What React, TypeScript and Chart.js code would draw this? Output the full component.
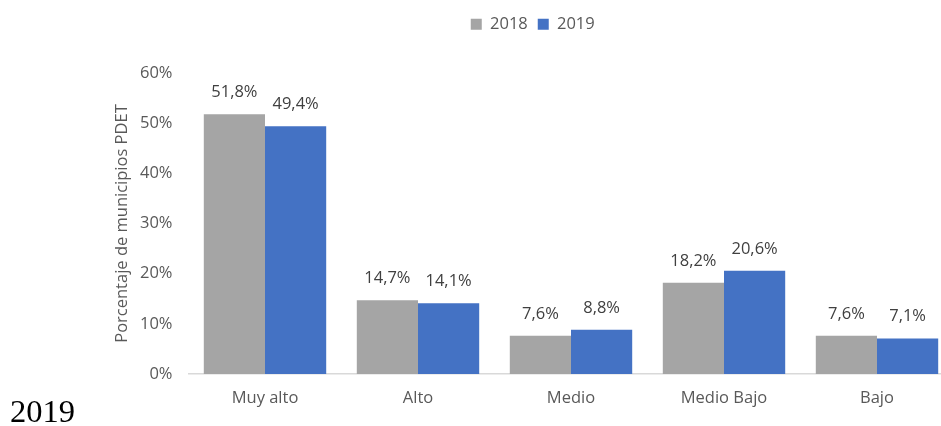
import React, { useEffect, useRef } from "react";
import { Chart, registerables } from "chart.js";

Chart.register(...registerables);

const categories = ["Muy alto", "Alto", "Medio", "Medio Bajo", "Bajo"];
const series2018 = [51.8, 14.7, 7.6, 18.2, 7.6];
const series2019 = [49.4, 14.1, 8.8, 20.6, 7.1];
const seriesNames = ["2018", "2019"];
const yTicksMax = 60;
const yTickStep = 10;
const yTitle = "Porcentaje de municipios PDET";
const footerText = "2019";

const FONT = "'Open Sans', sans-serif";
const TEXT = "#595959";
const FS = 16.5;

const fmt = (v: number) => v.toFixed(1).replace(".", ",") + "%";

const dataLabels = {
  id: "dataLabels",
  afterDatasetsDraw(chart: any) {
    const ctx = chart.ctx;
    ctx.save();
    ctx.font = `${FS}px ${FONT}`;
    ctx.fillStyle = "#404040";
    ctx.textAlign = "center";
    ctx.textBaseline = "alphabetic";
    chart.data.datasets.forEach((ds: any, i: number) => {
      const meta = chart.getDatasetMeta(i);
      meta.data.forEach((bar: any, j: number) => {
        ctx.fillText(fmt(ds.data[j]), bar.x, bar.y - 17);
      });
    });
    ctx.restore();
  },
};

const legendHeight = {
  id: "legendHeight",
  beforeInit(chart: any) {
    const legend = chart.legend;
    if (!legend) return;
    const orig = legend.fit;
    legend.fit = function () {
      orig.call(this);
      this.height = 67;
    };
  },
};

export default function App() {
  const ref = useRef<HTMLCanvasElement | null>(null);
  useEffect(() => {
    if (!ref.current) return;
    const chart = new Chart(ref.current, {
      type: "bar",
      data: {
        labels: categories,
        datasets: [
          {
            label: seriesNames[0],
            data: series2018,
            backgroundColor: "#A5A5A5",
            categoryPercentage: 0.8,
            barPercentage: 1,
          },
          {
            label: seriesNames[1],
            data: series2019,
            backgroundColor: "#4472C4",
            categoryPercentage: 0.8,
            barPercentage: 1,
          },
        ],
      },
      options: {
        animation: false,
        responsive: false,
        maintainAspectRatio: false,
        layout: { padding: { left: 112, right: 16.5, top: 6, bottom: 0 } },
        plugins: {
          legend: {
            position: "top",
            labels: {
              boxWidth: 11,
              boxHeight: 11,
              padding: 10,
              color: TEXT,
              font: { family: FONT, size: FS },
            },
          },
          tooltip: { enabled: false },
        },
        scales: {
          x: {
            grid: { display: false, drawTicks: false },
            border: { display: true, color: "#D9D9D9", width: 1.5 },
            ticks: { color: TEXT, font: { family: FONT, size: FS }, padding: 14 },
            afterFit: (s: any) => {
              s.height = 52;
            },
          },
          y: {
            min: 0,
            max: yTicksMax,
            grid: { display: false, drawTicks: false },
            border: { display: false },
            ticks: {
              stepSize: yTickStep,
              color: TEXT,
              font: { family: FONT, size: FS },
              padding: 16,
              callback: (v: any) => v + "%",
            },
            title: {
              display: true,
              text: yTitle,
              color: TEXT,
              font: { family: FONT, size: FS },
              padding: 0,
            },
            afterFit: (s: any) => {
              s.width = 76.5;
            },
          },
        },
      },
      plugins: [dataLabels, legendHeight],
    });
    return () => chart.destroy();
  }, []);

  return (
    <div
      style={{
        position: "fixed",
        left: 0,
        top: 0,
        width: 941,
        height: 426,
        overflow: "hidden",
        background: "#fff",
      }}
    >
      <canvas ref={ref} width={970} height={426} style={{ position: "absolute", left: 0, top: 0 }} />
      <div
        style={{
          position: "absolute",
          left: 10,
          top: 393,
          fontFamily: "'Liberation Serif', 'Times New Roman', serif",
          fontSize: 32.5,
          lineHeight: "36px",
          color: "#000",
        }}
      >
        {footerText}
      </div>
    </div>
  );
}
